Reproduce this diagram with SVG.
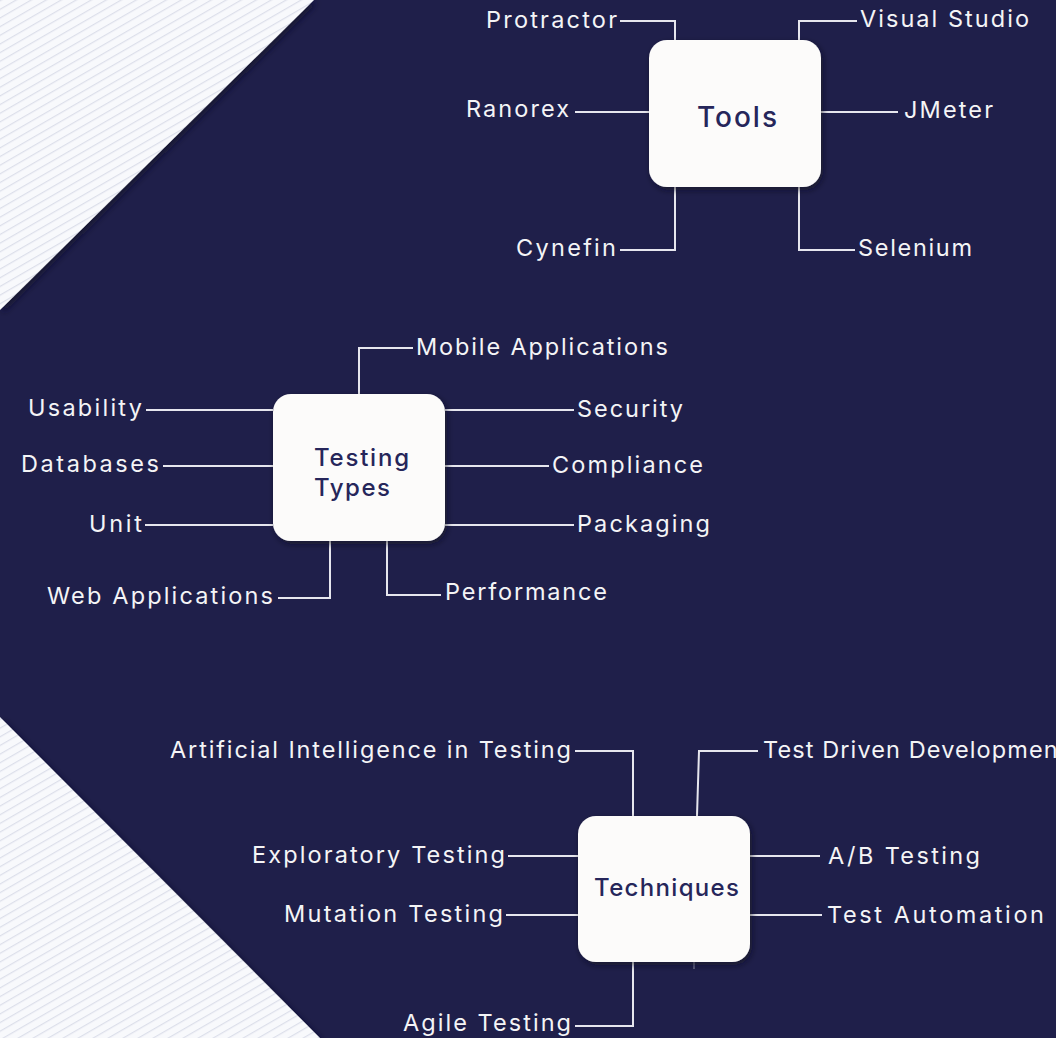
<svg xmlns="http://www.w3.org/2000/svg" width="1056" height="1038" viewBox="0 0 1056 1038">
<defs>
<pattern id="stripes" patternUnits="userSpaceOnUse" width="12" height="7.5" patternTransform="rotate(-30)">
<rect width="12" height="7.5" fill="#f8f9fc"/>
<line x1="0" y1="0.6" x2="12" y2="0.6" stroke="#dcdfea" stroke-width="1.2"/>
</pattern>
<filter id="edgeShadow" x="-20%" y="-20%" width="140%" height="140%">
<feDropShadow dx="3" dy="3" stdDeviation="3" flood-color="#0c0c26" flood-opacity="0.7"/>
</filter>
<filter id="boxShadow" x="-20%" y="-20%" width="140%" height="140%">
<feDropShadow dx="2" dy="3" stdDeviation="3" flood-color="#0a0a22" flood-opacity="0.6"/>
</filter>
</defs>
<style>
.bg{fill:#1f1f4a}
.box{fill:#fcfbfa;filter:url(#boxShadow)}
.conn path{fill:none;stroke:#e6e6ee;stroke-width:2}
.lbl{font-family:Inter,"DejaVu Sans",sans-serif;font-size:23.5px;fill:#f4f4f6}
.end{text-anchor:end}
.title{font-family:Inter,"DejaVu Sans",sans-serif;font-size:24px;font-weight:500;fill:#26265a}
</style>
<rect class="bg" x="0" y="0" width="1056" height="1038"/>
<polygon points="0,0 314,0 0,310" fill="url(#stripes)" filter="url(#edgeShadow)"/>
<polygon points="0,717 320,1038 0,1038" fill="url(#stripes)" filter="url(#edgeShadow)"/>

<g class="conn" id="connectors">
<path d="M620,21 H675 V40"/>
<path d="M857,21 H799 V40"/>
<path d="M575,112 H649"/>
<path d="M821,112 H898"/>
<path d="M675,187 V250 H620"/>
<path d="M799,187 V250 H855"/>
<path d="M359,394 V348 H413"/>
<path d="M146,410 H273"/>
<path d="M445,410 H574"/>
<path d="M163,466 H273"/>
<path d="M445,466 H549"/>
<path d="M145,525 H273"/>
<path d="M445,525 H574"/>
<path d="M330,541 V598 H278"/>
<path d="M387,541 V595 H441"/>
<path d="M575,751 H633 V816"/>
<path d="M697,816 L699,751 H758"/>
<path d="M508,856 H578"/>
<path d="M750,856 H820"/>
<path d="M506,915 H578"/>
<path d="M750,915 H822"/>
<path d="M633,962 V1026 H575"/>
<path d="M694,962 V969" style="stroke-width:1;opacity:0.6"/>
</g>

<g id="tools">
<rect class="box" x="649" y="40" width="172" height="147" rx="18"/>
<text class="title" x="697" y="127" textLength="80" style="font-size:28px">Tools</text>
</g>
<g id="tools-labels">
<text class="lbl end" x="617" y="28" textLength="131">Protractor</text>
<text class="lbl" x="860" y="27" textLength="169">Visual Studio</text>
<text class="lbl end" x="569" y="117" textLength="103">Ranorex</text>
<text class="lbl" x="904" y="118" textLength="89">JMeter</text>
<text class="lbl end" x="616" y="256" textLength="100">Cynefin</text>
<text class="lbl" x="858" y="256" textLength="114">Selenium</text>
</g>

<g id="testing-types">
<rect class="box" x="273" y="394" width="172" height="147" rx="18"/>
<text class="title" x="314" y="466" textLength="95">Testing</text>
<text class="title" x="314" y="496" textLength="76">Types</text>
</g>
<g id="testing-types-labels">
<text class="lbl" x="416" y="355" textLength="252">Mobile Applications</text>
<text class="lbl end" x="142" y="416" textLength="114">Usability</text>
<text class="lbl" x="577" y="417" textLength="106">Security</text>
<text class="lbl end" x="159" y="472" textLength="138">Databases</text>
<text class="lbl" x="552" y="473" textLength="151">Compliance</text>
<text class="lbl end" x="142" y="532" textLength="53">Unit</text>
<text class="lbl" x="577" y="532" textLength="133">Packaging</text>
<text class="lbl end" x="273" y="604" textLength="226">Web Applications</text>
<text class="lbl" x="445" y="600" textLength="162">Performance</text>
</g>

<g id="techniques">
<rect class="box" x="578" y="816" width="172" height="146" rx="18"/>
<text class="title" x="594" y="896" textLength="145">Techniques</text>
</g>
<g id="techniques-labels">
<text class="lbl end" x="571" y="758" textLength="401">Artificial Intelligence in Testing</text>
<text class="lbl" x="763" y="758" style="letter-spacing:1.1px">Test Driven Development</text>
<text class="lbl end" x="505" y="863" textLength="253">Exploratory Testing</text>
<text class="lbl" x="828" y="864" textLength="152">A/B Testing</text>
<text class="lbl end" x="503" y="922" textLength="219">Mutation Testing</text>
<text class="lbl" x="827" y="923" textLength="217">Test Automation</text>
<text class="lbl end" x="571" y="1031" textLength="168">Agile Testing</text>
</g>
</svg>
